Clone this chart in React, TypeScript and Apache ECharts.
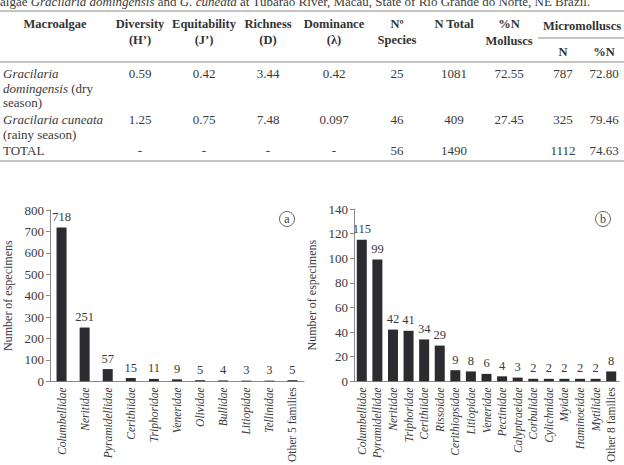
import React, { useEffect, useRef } from "react";
import * as echarts from "echarts";

// ---- Table data ----
const tableHeaders1 = ["Diversity", "Equitability", "Richness", "Dominance", "Nº", "N Total", "%N"];
const tableHeaders2 = ["(H’)", "(J’)", "(D)", "(λ)", "Species", "", "Molluscs"];
const subHeaders = ["N", "%N"];
const rowDry = ["0.59", "0.42", "3.44", "0.42", "25", "1081", "72.55", "787", "72.80"];
const rowRainy = ["1.25", "0.75", "7.48", "0.097", "46", "409", "27.45", "325", "79.46"];
const rowTotal = ["-", "-", "-", "-", "56", "1490", "", "1112", "74.63"];

// ---- Chart (a) data: dry season ----
const catsA = ["Columbellidae", "Neritidae", "Pyramidellidae", "Cerithiidae", "Triphoridae", "Veneridae", "Olividae", "Bullidae", "Litiopidae", "Tellinidae", "Other 5 families"];
const valsA = [718, 251, 57, 15, 11, 9, 5, 4, 3, 3, 5];

// ---- Chart (b) data: rainy season ----
const catsB = ["Columbellidae", "Pyramidellidae", "Neritidae", "Triphoridae", "Cerithiidae", "Rissoidae", "Cerithiopsidae", "Litiopidae", "Veneridae", "Pectinidae", "Calyptraeidae", "Corbulidae", "Cylichnidae", "Myidae", "Haminoeidae", "Mytilidae", "Other 8 families"];
const valsB = [115, 99, 42, 41, 34, 29, 9, 8, 6, 4, 3, 2, 2, 2, 2, 2, 8];

const FONT = "Liberation Serif";
const TXT = "#3a3a3a";
const BAR = "#2b2b30";
const RULE = "#8a8a8a";

const colX = [140, 204, 268, 334, 397, 454, 509, 563, 604];

export default function App() {
  const ref = useRef<HTMLDivElement>(null);
  useEffect(() => {
    if (!ref.current) return;
    const chart = echarts.init(ref.current, null, { renderer: "svg" });

    const txt = (x: number, y: number, t: string, extra: any = {}) => ({
      type: "text",
      x,
      y,
      style: {
        text: t,
        fontFamily: FONT,
        fontSize: 13,
        fontWeight: "normal",
        fontStyle: "normal",
        fill: TXT,
        align: "center",
        verticalAlign: "middle",
        ...extra,
      },
    });
    const bold = (x: number, y: number, t: string) =>
      txt(x, y, t, { fontWeight: "bold", fontSize: 12.5, fill: "#333" });
    const hline = (x1: number, x2: number, y: number, w = 1.2) => ({
      type: "line",
      shape: { x1, y1: y, x2, y2: y },
      style: { stroke: RULE, lineWidth: w },
    });
    const richI = { i: { fontStyle: "italic", fontFamily: FONT, fontSize: 13, fill: TXT } };

    const rowY = [73, 88, 102, 119, 134, 150];

    const graphics: any[] = [];
    // caption (partially clipped at top)
    graphics.push(
      txt(0, 8, "algae {i|Gracilaria domingensis} and {i|G. cuneata} at Tubarao River, Macau, State of Rio Grande do Norte, NE Brazil.", {
        align: "left",
        verticalAlign: "bottom",
        rich: richI,
      })
    );
    graphics.push(hline(0, 624, 11));
    graphics.push(hline(0, 624, 62));
    graphics.push(hline(0, 624, 161));
    graphics.push(hline(538, 624, 38, 1));
    // header
    graphics.push(bold(55, 24, "Macroalgae"));
    tableHeaders1.forEach((h, i) => graphics.push(bold(colX[i], 24, h)));
    tableHeaders2.forEach((h, i) => {
      if (h) graphics.push(bold(colX[i], i === 6 ? 41 : 40, h));
    });
    graphics.push(bold(582, 26, "Micromolluscs"));
    subHeaders.forEach((h, i) => graphics.push(bold(colX[7 + i], 52, h)));
    // row labels
    const italic = { fontStyle: "italic", align: "left" };
    graphics.push(txt(3, rowY[0], "Gracilaria", italic));
    graphics.push(txt(3, rowY[1], "{i|domingensis} (dry", { align: "left", rich: richI }));
    graphics.push(txt(3, rowY[2], "season)", { align: "left" }));
    graphics.push(txt(3, rowY[3], "Gracilaria cuneata", italic));
    graphics.push(txt(3, rowY[4], "(rainy season)", { align: "left" }));
    graphics.push(txt(3, rowY[5], "TOTAL", { align: "left" }));
    rowDry.forEach((v, i) => graphics.push(txt(colX[i], rowY[0], v)));
    rowRainy.forEach((v, i) => graphics.push(txt(colX[i], rowY[3], v)));
    rowTotal.forEach((v, i) => v && graphics.push(txt(colX[i], rowY[5], v)));

    // circled panel letters
    const circ = (cx: number, cy: number, l: string) => [
      { type: "circle", shape: { cx, cy, r: 7.5 }, style: { fill: "none", stroke: "#666", lineWidth: 1 } },
      txt(cx, cy, l, { fontSize: 12 }),
    ];
    graphics.push(...circ(287, 219, "a"), ...circ(603, 219, "b"));

    const catLabel = {
      rotate: 90,
      interval: 0,
      margin: 6,
      color: TXT,
      fontFamily: FONT,
      fontSize: 11.5,
      formatter: (v: string) => (v.startsWith("Other") ? `{n|${v}}` : `{i|${v}}`),
      rich: {
        i: { fontStyle: "italic", fontFamily: FONT, fontSize: 11.5, color: TXT },
        n: { fontStyle: "normal", fontFamily: FONT, fontSize: 11.5, color: TXT },
      },
    };
    const yAx = (gi: number, max: number, interval: number) => ({
      type: "value",
      gridIndex: gi,
      min: 0,
      max,
      interval,
      name: "Number of especimens",
      nameLocation: "middle",
      nameGap: 36,
      nameTextStyle: { fontFamily: FONT, fontSize: 12, color: TXT },
      axisLine: { show: true, lineStyle: { color: RULE, width: 1 } },
      axisTick: { show: true, length: 4, lineStyle: { color: RULE } },
      axisLabel: { color: TXT, fontFamily: FONT, fontSize: 13, margin: 6 },
      splitLine: { show: false },
    });
    const xAx = (gi: number, data: string[]) => ({
      type: "category",
      gridIndex: gi,
      data,
      axisLine: { show: true, lineStyle: { color: RULE, width: 1 } },
      axisTick: { show: false },
      axisLabel: catLabel,
    });
    const barSeries = (gi: number, data: number[]) => ({
      type: "bar",
      xAxisIndex: gi,
      yAxisIndex: gi,
      data,
      barWidth: 10,
      itemStyle: { color: BAR },
      label: {
        show: true,
        position: "top",
        distance: 4,
        color: TXT,
        fontFamily: FONT,
        fontSize: 12.5,
      },
    });

    chart.setOption({
      animation: false,
      backgroundColor: "#ffffff",
      grid: [
        { left: 50, top: 210, width: 254, height: 172 },
        { left: 354, top: 209, width: 265, height: 174 },
      ],
      xAxis: [xAx(0, catsA), xAx(1, catsB)],
      yAxis: [yAx(0, 800, 100), yAx(1, 140, 20)],
      series: [barSeries(0, valsA), barSeries(1, valsB)],
      graphic: graphics,
    });
    return () => chart.dispose();
  }, []);
  return (
    <div
      ref={ref}
      style={{ position: "fixed", left: 0, top: 0, width: 624, height: 465, background: "#fff" }}
    />
  );
}
